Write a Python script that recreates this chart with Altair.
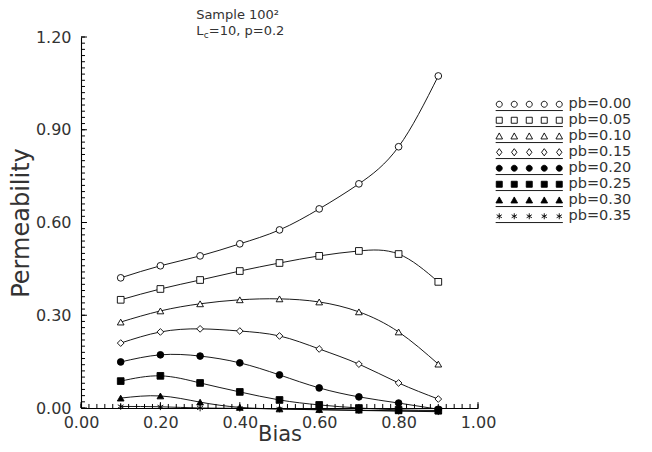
import altair as alt
import pandas as pd

# ---------------- data ----------------
bias = [0.1, 0.2, 0.3, 0.4, 0.5, 0.6, 0.7, 0.8, 0.9]
series_labels = ["pb=0.00", "pb=0.05", "pb=0.10", "pb=0.15",
                 "pb=0.20", "pb=0.25", "pb=0.30", "pb=0.35"]
perm_000 = [0.421, 0.460, 0.492, 0.531, 0.576, 0.644, 0.725, 0.845, 1.074]
perm_005 = [0.350, 0.385, 0.414, 0.443, 0.469, 0.492, 0.508, 0.498, 0.408]
perm_010 = [0.278, 0.314, 0.337, 0.350, 0.353, 0.343, 0.311, 0.246, 0.142]
perm_015 = [0.210, 0.246, 0.256, 0.249, 0.233, 0.191, 0.142, 0.081, 0.029]
perm_020 = [0.149, 0.172, 0.168, 0.146, 0.107, 0.065, 0.036, 0.016, -0.004]
perm_025 = [0.087, 0.104, 0.081, 0.052, 0.026, 0.010, 0.000, -0.006, -0.008]
perm_030 = [0.032, 0.039, 0.019, 0.002, -0.003, -0.005, -0.007, -0.009, -0.010]
perm_035 = [0.005, 0.004, 0.000, -0.001, -0.003, -0.006, -0.008, -0.010, -0.012]
all_series = [perm_000, perm_005, perm_010, perm_015,
              perm_020, perm_025, perm_030, perm_035]

x_major = [0.0, 0.2, 0.4, 0.6, 0.8, 1.0]
y_major = [0.0, 0.3, 0.6, 0.9, 1.2]
x_minor = [i / 50 for i in range(51)]
y_minor = [i / 50 for i in range(61)]

rows = []
for lab, vals in zip(series_labels, all_series):
    for b, v in zip(bias, vals):
        rows.append({"bias": b, "perm": v, "series": lab})
df = pd.DataFrame(rows)

# ---------------- styling ----------------
FONT = "DejaVu Sans"
TXT = "#333333"
W, H = 397, 371

star = "M0,-1L0,1M-0.87,-0.5L0.87,0.5M-0.87,0.5L0.87,-0.5"
point_shapes = ["circle", "square", "triangle-up", "diamond",
                "circle", "square", "triangle-up", star]
fills = ["white", "white", "white", "white",
         "black", "black", "black", "black"]
strokes = ["black"] * 8


def legend_path(kind):
    parts = []
    for cx in [-10, -5, 0, 5, 10]:
        if kind == "circle":
            parts.append(f"M{cx-1},0A1,1 0 1,0 {cx+1},0A1,1 0 1,0 {cx-1},0Z")
        elif kind == "square":
            parts.append(f"M{cx-1},-1L{cx+1},-1L{cx+1},1L{cx-1},1Z")
        elif kind == "tri":
            parts.append(f"M{cx},-1.1L{cx+1.1},0.9L{cx-1.1},0.9Z")
        elif kind == "diamond":
            parts.append(f"M{cx},-1.2L{cx+0.9},0L{cx},1.2L{cx-0.9},0Z")
        else:
            parts.append(f"M{cx},-1L{cx},1M{cx-0.87},-0.5L{cx+0.87},0.5"
                         f"M{cx-0.87},0.5L{cx+0.87},-0.5")
    parts.append("M-11.2,2.1L11.2,2.1")
    return "".join(parts)


legend_shapes = [legend_path(k) for k in
                 ["circle", "square", "tri", "diamond",
                  "circle", "square", "tri", "star"]]

xs = alt.Scale(domain=[0, 1], nice=False, zero=False)
ys = alt.Scale(domain=[0, 1.2], nice=False, zero=False)

base = alt.Chart(df)

lines = base.mark_line(interpolate="natural", color="black",
                       strokeWidth=0.9).encode(
    x=alt.X("bias:Q", scale=xs,
            axis=alt.Axis(values=x_major, format=".2f", ticks=False,
                          grid=False, title="Bias", labelPadding=6,
                          labelFlush=False,
                          titleFontSize=21, titleFontWeight="normal",
                          titleBaseline="alphabetic", titleY=32)),
    y=alt.Y("perm:Q", scale=ys,
            axis=alt.Axis(values=y_major, format=".2f", ticks=False,
                          grid=False, title="Permeability", labelPadding=10,
                          labelFlush=False,
                          titleFontSize=24, titleFontWeight="normal",
                          titleBaseline="middle", titleX=-60)),
    detail="series:N",
)

points = base.mark_point(filled=True, stroke="black", strokeWidth=0.9,
                         size=45, opacity=1).encode(
    x=alt.X("bias:Q", scale=xs),
    y=alt.Y("perm:Q", scale=ys),
    shape=alt.Shape("series:N",
                    scale=alt.Scale(domain=series_labels, range=point_shapes),
                    legend=None),
    fill=alt.Fill("series:N",
                  scale=alt.Scale(domain=series_labels, range=fills),
                  legend=None),
)

leg = alt.Legend(title=None, orient="none", legendX=441, legendY=60,
                 padding=0, rowPadding=-6, symbolSize=36,
                 symbolStrokeColor="black", symbolStrokeWidth=0.9,
                 labelOffset=32, labelFont=FONT, labelFontSize=14.5,
                 labelColor=TXT, labelLimit=200)

legend_layer = base.transform_filter("datum.bias > 5").mark_point(
    filled=True, strokeWidth=0.9, size=36, opacity=1).encode(
    x=alt.X("bias:Q", scale=xs),
    y=alt.Y("perm:Q", scale=ys),
    shape=alt.Shape("series:N",
                    scale=alt.Scale(domain=series_labels, range=legend_shapes),
                    legend=leg),
    fill=alt.Fill("series:N",
                  scale=alt.Scale(domain=series_labels, range=fills),
                  legend=leg),
    stroke=alt.Stroke("series:N",
                      scale=alt.Scale(domain=series_labels, range=strokes),
                      legend=leg),
)

# axis tick marks drawn inward
xmin_df = pd.DataFrame({"t": x_minor})
ymin_df = pd.DataFrame({"t": y_minor})
xmaj_df = pd.DataFrame({"t": x_major})
ymaj_df = pd.DataFrame({"t": y_major})

xminor = alt.Chart(xmin_df).mark_rule(color="black", strokeWidth=1).encode(
    x=alt.X("t:Q", scale=xs), y=alt.datum(0.0), y2=alt.datum(0.013))
xmajor = alt.Chart(xmaj_df).mark_rule(color="black", strokeWidth=1).encode(
    x=alt.X("t:Q", scale=xs), y=alt.datum(0.0), y2=alt.datum(0.019))
yminor = alt.Chart(ymin_df).mark_rule(color="black", strokeWidth=1).encode(
    y=alt.Y("t:Q", scale=ys), x=alt.datum(0.0), x2=alt.datum(0.010))
ymajor = alt.Chart(ymaj_df).mark_rule(color="black", strokeWidth=1).encode(
    y=alt.Y("t:Q", scale=ys), x=alt.datum(0.0), x2=alt.datum(0.015))

# annotation text
ann_df = pd.DataFrame({"a": [0]})
ann_style = dict(align="left", baseline="middle", font=FONT,
                 fontSize=13, color=TXT)
t1 = alt.Chart(ann_df).mark_text(**ann_style).encode(
    x=alt.datum(0.29), y=alt.datum(1.271), text=alt.value("Sample 100²"))
t2a = alt.Chart(ann_df).mark_text(**ann_style).encode(
    x=alt.datum(0.29), y=alt.datum(1.219), text=alt.value("L"))
t2b = alt.Chart(ann_df).mark_text(**{**ann_style, "fontSize": 9}).encode(
    x=alt.datum(0.309), y=alt.datum(1.207), text=alt.value("c"))
t2c = alt.Chart(ann_df).mark_text(**ann_style).encode(
    x=alt.datum(0.322), y=alt.datum(1.219), text=alt.value("=10, p=0.2"))

chart = alt.layer(
    lines, points, legend_layer, xminor, xmajor, yminor, ymajor,
    t1, t2a, t2b, t2c
).resolve_scale(
    shape="independent", fill="independent", stroke="independent"
).properties(
    width=W, height=H,
    autosize=alt.AutoSizeParams(type="none"),
    padding={"left": 73, "top": 29, "right": 166, "bottom": 36},
).configure_view(
    strokeWidth=0
).configure_axis(
    domainColor="black", domainWidth=1.1,
    labelFont=FONT, labelFontSize=16, labelColor=TXT,
    titleFont=FONT, titleColor=TXT,
)

chart.save("out.html", embed_options={"renderer": "svg", "actions": False})
